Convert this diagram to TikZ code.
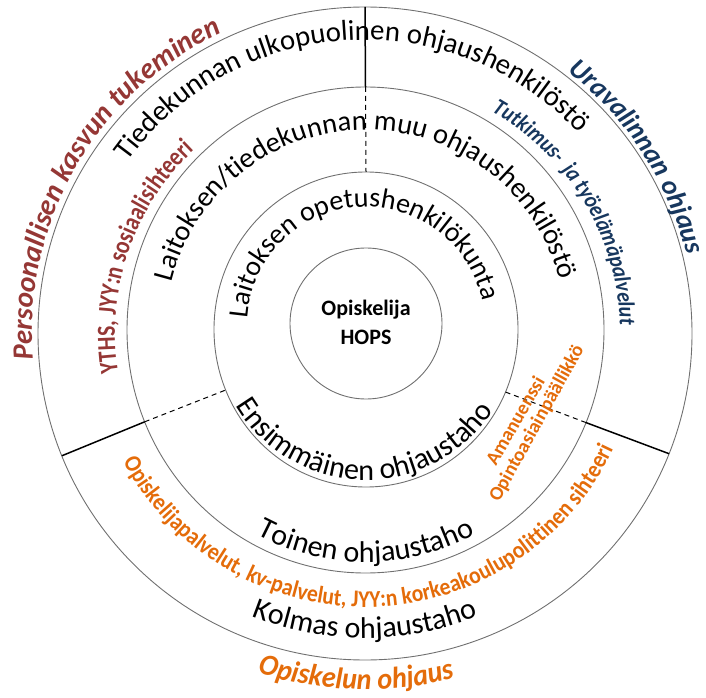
\documentclass[tikz,border=0pt]{standalone}
\usepackage{fontspec}
\setmainfont{Carlito}
\newfontfamily\cA[FakeStretch=0.90]{Carlito}
\newfontfamily\cB[FakeStretch=0.84]{Carlito}
\newfontfamily\cC[FakeStretch=0.94]{Carlito}
\newfontfamily\cD[FakeStretch=0.88]{Carlito}
\usetikzlibrary{decorations.text}
\definecolor{dred}{HTML}{953735}
\definecolor{dblue}{HTML}{17375E}
\definecolor{orng}{HTML}{E46C0A}
\definecolor{ringc}{HTML}{707070}
\tikzset{
  ringline/.style={draw=ringc, line width=0.9pt},
  sepsolid/.style={draw=black, line width=1.5pt},
  sepdash/.style={draw=black, line width=1pt, dash pattern=on 5pt off 4pt},
  arctext/.style={decorate, decoration={text along path, text align=center, text color=#1}},
  sidelabel/.style={text=orng, font=\bfseries\fontsize{19.5}{22}\selectfont, inner sep=0pt, anchor=base west},
}
\begin{document}
\begin{tikzpicture}[x=1pt,y=1pt]
\useasboundingbox (0,0) rectangle (706,697);
% centres
\coordinate (c0) at (366,373.5);
\coordinate (c1) at (366,367.5);
\coordinate (c2) at (365.5,367);
\coordinate (c3) at (365,363.5);
% rings
\draw[ringline] (c0) ellipse [x radius=76pt, y radius=75.5pt];
\draw[ringline] (c1) ellipse [x radius=152pt, y radius=157.5pt];
\draw[ringline] (c2) ellipse [x radius=238.5pt, y radius=243pt];
\draw[ringline] (c3) ellipse [x radius=327pt, y radius=326.5pt];
% separator points
\path (c3) ++(90:327pt and 326.5pt) coordinate (t3);
\path (c2) ++(90:238.5pt and 243pt) coordinate (t2);
\path (c1) ++(90:152pt and 157.5pt) coordinate (t1);
\path (c3) ++(202:327pt and 326.5pt) coordinate (l3);
\path (c2) ++(202.2:238.5pt and 243pt) coordinate (l2);
\path (c1) ++(202.6:152pt and 157.5pt) coordinate (l1);
\path (c3) ++(-21.6:327pt and 326.5pt) coordinate (r3);
\path (c2) ++(-22.4:238.5pt and 243pt) coordinate (r2);
\path (c1) ++(-23.4:152pt and 157.5pt) coordinate (r1);
\draw[sepsolid] (t3) -- (t2);
\draw[sepdash] (t2) -- (t1);
\draw[sepsolid] (l3) -- (l2);
\draw[sepdash] (l2) -- (l1);
\draw[sepsolid] (r3) -- (r2);
\draw[sepdash] (r2) -- (r1);
% centre
\node[font=\bfseries\fontsize{22}{29}\selectfont, align=center, inner sep=0pt] (hops) at (366,375) {Opiskelija\\HOPS};
% black ring texts
\path[arctext=black, decoration={text={|\fontsize{28.8}{30}\selectfont|Tiedekunnan ulkopuolinen ohjaushenkilöstö}}]
  (365,365) ++(178.6:292) arc[start angle=178.6, end angle=8.6, radius=292];
\path[arctext=black, decoration={text={|\fontsize{28.5}{30}\selectfont|Laitoksen/tiedekunnan muu ohjaushenkilöstö}}]
  (366,367) ++(178.3:200) arc[start angle=178.3, end angle=2.3, radius=200];
\path[arctext=black, decoration={text={|\fontsize{28}{30}\selectfont|Laitoksen opetushenkilökunta}}]
  (366,371) ++(194:119) arc[start angle=194, end angle=-6, radius=119];
\path[arctext=black, decoration={text={|\fontsize{30}{32}\selectfont|Ensimmäinen ohjaustaho}}]
  (366,368) ++(-171:151) arc[start angle=-171, end angle=-11, radius=151];
\path[arctext=black, decoration={text={|\fontsize{30}{32}\selectfont|Toinen ohjaustaho}}]
  (366,367) ++(-150:232) arc[start angle=-150, end angle=-30, radius=232];
\path[arctext=black, decoration={text={|\fontsize{30}{32}\selectfont|Kolmas ohjaustaho}}]
  (365,364) ++(-150:305) arc[start angle=-150, end angle=-30, radius=305];
% coloured texts
\path[arctext=orng, decoration={text={|\cC\bfseries\itshape\fontsize{30}{32}\selectfont|Opiskelun ohjaus}}]
  (365,363.5) ++(-141.5:356) arc[start angle=-141.5, end angle=-41.5, radius=356];
\path[arctext=orng, decoration={text={|\cA\bfseries\fontsize{24}{26}\selectfont|Opiskelijapalvelut, kv-palvelut, JYY:n korkeakoulupolittinen sihteeri}}]
  (365,364) ++(-173.5:274) arc[start angle=-173.5, end angle=-3.5, radius=274];
\path[arctext=dred, decoration={text={|\bfseries\itshape\fontsize{29}{31}\selectfont|Persoonallisen kasvun tukeminen}}]
  (365,363.5) ++(210:333) arc[start angle=210, end angle=90, radius=333];
\path[arctext=dred, decoration={text={|\cB\bfseries\fontsize{26}{28}\selectfont|YTHS, JYY:n sosiaalisihteeri}}]
  (365,364) ++(221:250) arc[start angle=221, end angle=101, radius=250];
\path[arctext=dblue, decoration={text={|\bfseries\itshape\fontsize{27.5}{30}\selectfont|Uravalinnan ohjaus}}]
  (365,363.5) ++(78:331) arc[start angle=78, end angle=-12, radius=331];
\path[arctext=dblue, decoration={text={|\cD\bfseries\itshape\fontsize{23}{25}\selectfont|Tutkimus- {\hspace{4pt}}ja työelämäpalvelut}}]
  (365,364) ++(76:255) arc[start angle=76, end angle=-14, radius=255];
% straight rotated labels
\node[sidelabel, rotate=60] (aman) at (496,229.9) {Amanuenssi};
\node[sidelabel, rotate=61] (opas) at (499,194) {Opintoasiainpäällikkö};
\end{tikzpicture}
\end{document}
